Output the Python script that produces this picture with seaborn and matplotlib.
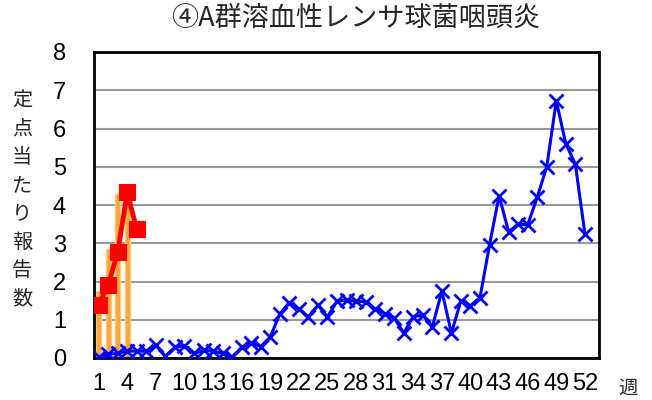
import matplotlib
matplotlib.use('Agg')
import matplotlib.pyplot as plt
import seaborn as sns

# weekly reports per sentinel site
weeks = list(range(1, 53))
prev_year = [0.03, 0.10, 0.12, 0.18, 0.18, 0.18, 0.33, 0.05, 0.28, 0.32,
             0.12, 0.20, 0.18, 0.12, 0.03, 0.28, 0.40, 0.30, 0.55, 1.15,
             1.45, 1.28, 1.08, 1.38, 1.08, 1.48, 1.52, 1.48, 1.47, 1.27,
             1.16, 1.05, 0.65, 1.08, 1.12, 0.82, 1.75, 0.65, 1.50, 1.37,
             1.58, 2.96, 4.24, 3.30, 3.50, 3.48, 4.20, 5.00, 6.72, 5.60,
             5.07, 3.25]
cur_weeks = [1, 2, 3, 4, 5]
cur_year = [1.39, 1.90, 2.77, 4.33, 3.36]
bar_weeks = [1, 2, 3, 4]
bar_vals = [1.76, 2.84, 4.29, 4.40]
xtick_weeks = list(range(1, 53, 3))
yticks = list(range(0, 9))

title = '④A群溶血性レンサ球菌咽頭炎'
ylabel = '定点当たり報告数'
xunit = '週'

sns.set_theme(style='white')
plt.rcParams['font.family'] = ['Noto Sans CJK JP', 'DejaVu Sans']
num_font = ['Liberation Sans', 'DejaVu Sans']

fig = plt.figure(figsize=(6.52, 4.0), dpi=100)
ax = fig.add_axes([0.144, 0.105, 0.775, 0.765])

sns.barplot(x=bar_weeks, y=bar_vals, native_scale=True, width=0.5,
            color='#F7A53C', saturation=1, edgecolor='#FFC878', linewidth=1,
            ax=ax, zorder=2)
sns.lineplot(x=weeks, y=prev_year, color='#0000FF', lw=2.2, marker='x',
             markersize=10, mew=2, mec='#0000FF', ax=ax, zorder=3)
sns.lineplot(x=cur_weeks, y=cur_year, color='#FF0000', lw=3.5, marker='s',
             markersize=11, mec='#FF0000', mfc='#FF0000', ax=ax, zorder=4)

ax.set_xlim(0.5, 53.5)
ax.set_ylim(0, 8)
ax.set_xticks(xtick_weeks)
ax.set_xticklabels([str(w) for w in xtick_weeks], family=num_font, fontsize=17)
ax.set_yticks(yticks)
ax.set_yticklabels([str(v) for v in yticks], family=num_font, fontsize=17)
ax.tick_params(axis='x', length=0, pad=11, colors='black')
ax.tick_params(axis='y', length=0, pad=20, colors='black')
ax.yaxis.grid(True, color='#999999', lw=1.5)
ax.set_axisbelow(True)
for s in ax.spines.values():
    s.set_color('black')
    s.set_linewidth(2)
ax.set_xlabel('')
ax.set_ylabel('')

fig.text(0.545, 0.955, title, ha='center', va='center', fontsize=19.5)
fig.text(0.034, 0.5, '\n'.join(ylabel), ha='center', va='center',
         fontsize=14.5, linespacing=1.45)
fig.text(0.963, 0.03, xunit, ha='center', va='center', fontsize=14)

fig.savefig('out.png', dpi=100)
